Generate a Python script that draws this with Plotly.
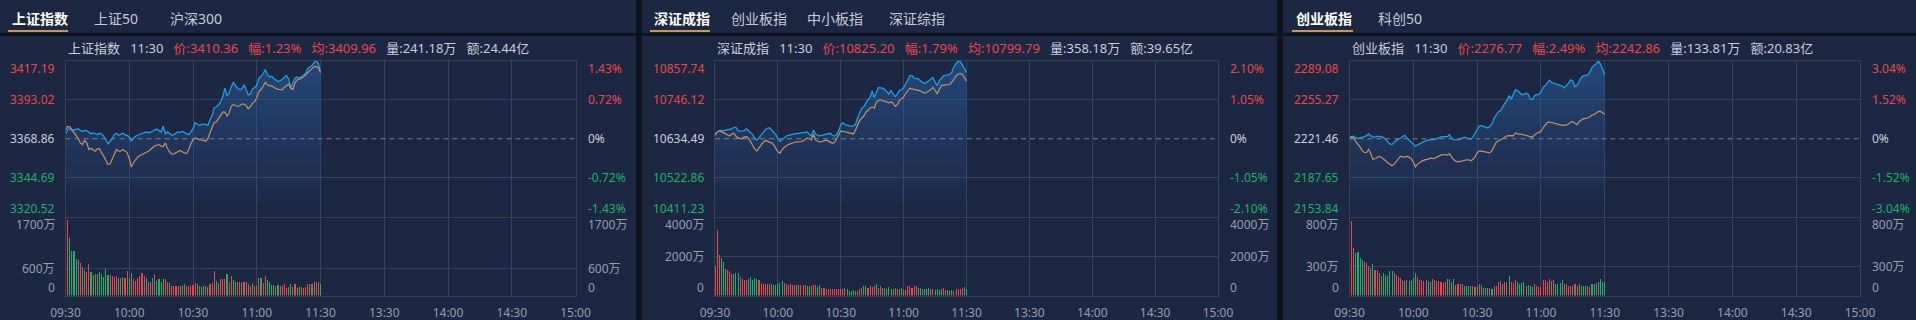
import plotly.graph_objects as go

# ---------------------------------------------------------------- data
minute_index = list(range(121))          # minutes after 09:30 (morning session)
time_tickvals = [0, 30, 60, 90, 120, 150, 180, 210, 240]
time_ticktext = ["09:30", "10:00", "10:30", "11:00", "11:30", "13:30", "14:00", "14:30", "15:00"]
last_time = "11:30"

# ---- 上证指数
sh_tabs = ["上证指数", "上证50", "沪深300"]
sh_name = "上证指数"
sh_prev_close = 3368.86
sh_price_ticks = [3417.19, 3393.02, 3368.86, 3344.69, 3320.52]
sh_pct_ticks = ["1.43%", "0.72%", "0%", "-0.72%", "-1.43%"]
sh_vol_ticks = [1700, 600, 0]
sh_vol_ticktext = ["1700万", "600万", "0"]
sh_vol_total = "241.18万"
sh_amount_total = "24.44亿"
sh_price = [3371.43, 3374.73, 3375.14, 3373.90, 3374.32, 3374.73, 3375.14, 3373.90, 3373.49, 3374.11,
            3373.90, 3373.08, 3371.84, 3372.46, 3372.05, 3371.43, 3372.26, 3371.84, 3370.40, 3368.13,
            3365.66, 3367.31, 3368.96, 3371.43, 3372.26, 3371.02, 3371.43, 3372.26, 3371.43, 3371.02,
            3370.19, 3367.31, 3369.37, 3370.40, 3371.02, 3371.84, 3372.26, 3372.46, 3373.08, 3372.46,
            3372.87, 3373.49, 3374.32, 3374.73, 3373.90, 3373.08, 3376.58, 3371.84, 3373.08, 3372.26,
            3371.02, 3371.43, 3372.26, 3373.08, 3372.67, 3373.49, 3372.67, 3371.84, 3371.43, 3373.08,
            3375.14, 3378.85, 3378.03, 3377.20, 3377.61, 3378.03, 3377.61, 3377.20, 3380.50, 3383.39,
            3388.33, 3388.75, 3389.98, 3391.63, 3394.93, 3400.29, 3395.75, 3397.20, 3401.11, 3404.00,
            3401.94, 3400.29, 3399.46, 3399.88, 3402.35, 3399.26, 3396.17, 3396.58, 3399.88, 3400.70,
            3401.94, 3406.47, 3408.12, 3409.36, 3411.83, 3408.95, 3407.30, 3407.71, 3406.47, 3405.24,
            3404.41, 3404.82, 3406.06, 3406.88, 3408.12, 3406.06, 3400.29, 3404.00, 3406.47, 3407.30,
            3406.47, 3407.30, 3408.12, 3409.36, 3412.66, 3413.48, 3414.30, 3416.37, 3417.19, 3415.54,
            3410.36]
sh_avg = [3374.52, 3376.38, 3376.38, 3374.73, 3373.08, 3370.81, 3368.96, 3366.28, 3365.25, 3367.72,
          3366.28, 3362.16, 3362.77, 3362.16, 3361.13, 3362.57, 3362.77, 3359.89, 3358.03, 3355.35,
          3352.88, 3353.29, 3355.97, 3359.06, 3362.16, 3361.13, 3361.13, 3362.16, 3361.33, 3360.30,
          3356.59, 3351.23, 3354.12, 3356.18, 3357.42, 3358.45, 3359.06, 3360.09, 3360.51, 3361.13,
          3362.16, 3363.60, 3364.42, 3364.84, 3365.25, 3364.22, 3364.01, 3366.28, 3362.77, 3360.71,
          3359.27, 3359.48, 3360.30, 3360.71, 3361.54, 3360.71, 3359.89, 3359.89, 3362.16, 3365.66,
          3368.34, 3369.37, 3368.75, 3368.34, 3368.13, 3367.72, 3367.31, 3368.96, 3373.08, 3375.97,
          3378.85, 3379.47, 3381.33, 3383.80, 3385.45, 3385.45, 3382.97, 3384.83, 3388.95, 3390.19,
          3389.57, 3388.95, 3389.57, 3390.39, 3390.39, 3389.57, 3387.51, 3388.75, 3391.01, 3391.84,
          3394.52, 3398.23, 3399.46, 3401.32, 3404.00, 3402.35, 3401.73, 3401.73, 3400.91, 3400.08,
          3399.46, 3399.46, 3399.26, 3400.91, 3402.14, 3402.76, 3400.29, 3399.46, 3403.59, 3405.44,
          3405.85, 3406.27, 3407.30, 3408.53, 3409.77, 3410.59, 3412.04, 3413.69, 3413.69, 3413.07,
          3409.96]
sh_volume = [600, 1663, 1265, 976, 976, 810, 781, 723, 636, 557,
             506, 701, 520, 448, 470, 470, 520, 470, 405, 571,
             455, 448, 434, 398, 419, 383, 376, 412, 376, 542,
             376, 484, 361, 325, 376, 419, 492, 434, 376, 304,
             304, 390, 470, 325, 361, 304, 361, 361, 304, 275,
             217, 217, 217, 217, 202, 231, 246, 202, 202, 202,
             231, 267, 246, 202, 181, 202, 202, 181, 260, 275,
             542, 325, 275, 361, 361, 361, 470, 304, 434, 347,
             289, 304, 304, 275, 289, 304, 246, 217, 275, 217,
             217, 376, 376, 275, 434, 347, 304, 231, 231, 217,
             231, 217, 217, 246, 159, 188, 246, 188, 246, 159,
             188, 188, 174, 188, 260, 246, 260, 289, 289, 304,
             246]
sh_updown = list("rrggggrrgr" "rrggrggggg" "grrrrgrgrr" "ggrrrrrrgr" "rgrggggrrg" "rrrrgrgrrr"
                 "rrgrggrgrr" "rgrrrrgrrg" "grrgrrgrrg" "rrgrrggggr" "grrrrggrrg" "grrrrgrgrr" "g")

# ---- 深证成指
sz_tabs = ["深证成指", "创业板指", "中小板指", "深证综指"]
sz_name = "深证成指"
sz_prev_close = 10634.49
sz_price_ticks = [10857.74, 10746.12, 10634.49, 10522.86, 10411.23]
sz_pct_ticks = ["2.10%", "1.05%", "0%", "-1.05%", "-2.10%"]
sz_vol_ticks = [4000, 2000, 0]
sz_vol_ticktext = ["4000万", "2000万", "0"]
sz_vol_total = "358.18万"
sz_amount_total = "39.65亿"
sz_price = [10643.53, 10653.05, 10656.86, 10658.76, 10657.81, 10658.76, 10659.71, 10661.62, 10662.57, 10667.33,
            10667.33, 10657.81, 10655.91, 10656.86, 10657.81, 10662.57, 10657.81, 10652.10, 10646.38, 10634.96,
            10631.15, 10636.86, 10644.48, 10654.00, 10660.67, 10664.47, 10666.38, 10659.71, 10654.00, 10646.38,
            10634.96, 10627.34, 10632.10, 10637.82, 10641.62, 10644.48, 10646.38, 10648.29, 10649.24, 10650.19,
            10650.19, 10651.15, 10653.05, 10654.00, 10654.00, 10648.29, 10641.62, 10659.71, 10648.29, 10644.48,
            10642.58, 10644.48, 10645.43, 10647.34, 10649.24, 10650.19, 10644.48, 10641.62, 10646.38, 10657.81,
            10674.95, 10680.66, 10674.95, 10673.04, 10672.09, 10670.19, 10671.14, 10674.95, 10693.99, 10711.12,
            10722.55, 10726.36, 10736.83, 10747.30, 10753.01, 10772.06, 10753.01, 10768.25, 10781.58, 10780.62,
            10779.67, 10775.86, 10768.25, 10762.53, 10773.96, 10762.53, 10755.87, 10762.53, 10773.96, 10774.91,
            10781.58, 10791.10, 10803.47, 10815.85, 10815.85, 10808.23, 10806.33, 10806.33, 10800.62, 10795.86,
            10793.00, 10796.81, 10800.62, 10806.33, 10810.14, 10796.81, 10787.29, 10800.62, 10808.23, 10814.90,
            10816.80, 10817.75, 10819.66, 10825.37, 10841.56, 10850.12, 10857.74, 10856.79, 10848.22, 10836.79,
            10825.20]
sz_avg = [10648.29, 10654.00, 10657.81, 10654.95, 10652.10, 10648.29, 10645.43, 10642.58, 10648.29, 10650.19,
          10641.62, 10636.86, 10634.96, 10634.96, 10639.72, 10640.67, 10635.91, 10624.49, 10614.97, 10604.49,
          10599.73, 10608.30, 10616.87, 10624.49, 10629.25, 10628.30, 10624.49, 10622.58, 10616.87, 10608.30,
          10596.88, 10593.07, 10603.54, 10609.25, 10614.02, 10617.82, 10619.73, 10622.58, 10624.49, 10625.44,
          10625.44, 10626.39, 10628.30, 10633.06, 10636.86, 10635.91, 10631.15, 10647.34, 10631.15, 10627.34,
          10625.44, 10626.39, 10627.34, 10630.20, 10628.30, 10625.44, 10621.63, 10623.54, 10634.01, 10644.48,
          10656.86, 10655.91, 10654.00, 10652.10, 10650.19, 10649.24, 10648.29, 10658.76, 10672.09, 10686.37,
          10693.99, 10699.70, 10710.17, 10716.84, 10722.55, 10725.41, 10722.55, 10739.69, 10744.45, 10746.35,
          10744.45, 10742.54, 10741.59, 10737.78, 10740.64, 10735.88, 10727.31, 10732.07, 10744.45, 10749.21,
          10753.97, 10764.44, 10773.01, 10779.67, 10777.77, 10776.82, 10775.86, 10773.96, 10772.06, 10768.25,
          10765.39, 10767.30, 10771.10, 10775.86, 10781.58, 10772.06, 10764.44, 10775.86, 10787.29, 10788.24,
          10789.19, 10788.24, 10790.14, 10796.81, 10807.28, 10814.90, 10819.66, 10821.56, 10819.66, 10809.19,
          10799.79]
sz_volume = [1517, 3379, 2069, 1931, 1724, 1345, 1293, 1241, 1103, 1121,
             1172, 1172, 948, 862, 776, 776, 862, 948, 776, 896,
             828, 810, 638, 603, 603, 586, 586, 586, 517, 552,
             586, 621, 759, 621, 586, 552, 586, 552, 517, 517,
             517, 517, 517, 517, 465, 483, 483, 517, 552, 414,
             517, 379, 379, 345, 345, 310, 310, 310, 310, 310,
             310, 345, 397, 345, 241, 241, 259, 241, 224, 310,
             379, 465, 465, 379, 465, 448, 483, 569, 397, 483,
             379, 397, 345, 431, 345, 345, 379, 310, 345, 379,
             259, 259, 465, 465, 379, 483, 465, 397, 397, 345,
             345, 345, 397, 310, 345, 293, 345, 293, 345, 397,
             259, 259, 241, 259, 241, 345, 345, 345, 379, 431,
             345]
sz_updown = list("rrrgggrrrg" "ggrrrrgggg" "grrrrrrgrg" "gggrrrrrrg" "rrrrggrrrg" "grrrrrrrrr"
                 "rrrgggggrr" "rggrrrrgrr" "grgggrgrrg" "grrrrrrggr" "gggrrggggr" "rgggrrrrrg" "g")

# ---- 创业板指
cy_tabs = ["创业板指", "科创50"]
cy_name = "创业板指"
cy_prev_close = 2221.46
cy_price_ticks = [2289.08, 2255.27, 2221.46, 2187.65, 2153.84]
cy_pct_ticks = ["3.04%", "1.52%", "0%", "-1.52%", "-3.04%"]
cy_vol_ticks = [800, 300, 0]
cy_vol_ticktext = ["800万", "300万", "0"]
cy_vol_total = "133.81万"
cy_amount_total = "20.83亿"
cy_price = [2220.74, 2223.05, 2223.91, 2221.89, 2221.89, 2222.18, 2222.76, 2223.33, 2224.20, 2225.64,
            2223.91, 2223.05, 2222.76, 2223.62, 2223.62, 2223.33, 2222.47, 2221.03, 2218.72, 2216.99,
            2216.41, 2218.43, 2219.87, 2221.32, 2221.89, 2223.33, 2224.49, 2222.18, 2220.16, 2218.72,
            2216.99, 2214.97, 2216.12, 2217.28, 2218.14, 2219.01, 2219.87, 2220.45, 2220.74, 2221.03,
            2220.74, 2221.60, 2222.47, 2223.05, 2223.33, 2223.05, 2223.33, 2225.06, 2221.60, 2220.74,
            2220.45, 2220.45, 2221.32, 2221.89, 2222.76, 2222.18, 2221.32, 2220.74, 2223.05, 2226.22,
            2230.25, 2232.56, 2232.85, 2231.99, 2231.41, 2230.83, 2232.27, 2234.29, 2239.19, 2242.37,
            2244.96, 2245.83, 2249.29, 2252.17, 2254.48, 2259.09, 2255.92, 2259.67, 2263.99, 2263.42,
            2261.40, 2259.67, 2259.96, 2261.11, 2260.24, 2255.92, 2255.63, 2258.80, 2259.96, 2259.96,
            2261.97, 2266.01, 2267.74, 2269.76, 2272.36, 2270.34, 2269.76, 2269.47, 2268.32, 2268.03,
            2267.16, 2265.72, 2267.45, 2269.76, 2272.64, 2271.78, 2266.88, 2267.74, 2271.20, 2274.95,
            2276.10, 2276.68, 2276.97, 2279.28, 2283.31, 2285.33, 2286.77, 2289.08, 2286.48, 2281.87,
            2276.77]
cy_avg = [2223.62, 2223.05, 2221.89, 2219.01, 2216.70, 2214.11, 2210.93, 2209.49, 2209.49, 2212.09,
          2208.34, 2203.44, 2204.01, 2204.88, 2206.32, 2205.17, 2204.01, 2202.28, 2200.55, 2198.82,
          2197.96, 2199.40, 2202.00, 2204.30, 2206.32, 2205.46, 2205.46, 2206.32, 2205.46, 2204.30,
          2201.13, 2197.09, 2199.40, 2200.84, 2202.00, 2202.86, 2203.15, 2203.73, 2204.59, 2204.59,
          2204.30, 2205.46, 2206.61, 2207.19, 2207.76, 2207.47, 2207.47, 2208.34, 2205.17, 2203.15,
          2202.00, 2201.42, 2201.71, 2202.28, 2202.57, 2203.15, 2203.15, 2202.28, 2203.44, 2205.46,
          2209.20, 2210.65, 2210.65, 2210.36, 2209.78, 2209.49, 2209.20, 2211.22, 2214.39, 2218.43,
          2219.59, 2220.45, 2221.89, 2222.76, 2223.91, 2224.20, 2224.20, 2223.91, 2226.51, 2225.64,
          2225.64, 2225.35, 2224.78, 2224.20, 2223.62, 2222.76, 2222.76, 2224.78, 2226.22, 2226.79,
          2227.95, 2230.83, 2233.14, 2235.73, 2236.02, 2235.45, 2235.16, 2234.87, 2234.29, 2233.71,
          2233.14, 2233.14, 2233.43, 2234.00, 2236.02, 2236.31, 2234.87, 2233.71, 2236.60, 2238.04,
          2238.91, 2239.19, 2239.48, 2240.64, 2242.08, 2242.65, 2243.81, 2245.25, 2245.25, 2244.10,
          2242.86]
cy_volume = [226, 768, 495, 438, 445, 384, 371, 344, 337, 303,
             286, 324, 263, 263, 229, 202, 229, 216, 202, 256,
             249, 236, 212, 192, 179, 162, 148, 162, 148, 165,
             179, 236, 189, 162, 158, 148, 158, 148, 142, 175,
             155, 152, 148, 135, 125, 135, 175, 175, 135, 172,
             108, 121, 121, 115, 94, 94, 101, 101, 101, 84,
             101, 115, 108, 74, 81, 74, 78, 67, 101, 101,
             135, 145, 118, 135, 135, 202, 135, 128, 162, 142,
             118, 125, 135, 101, 108, 101, 88, 115, 101, 88,
             84, 162, 162, 135, 169, 152, 158, 121, 121, 128,
             158, 118, 115, 94, 101, 98, 115, 101, 121, 101,
             101, 101, 94, 84, 118, 121, 128, 142, 172, 135,
             135]
cy_updown = list("grrggggrrr" "ggrrgrgggg" "grrrrrgrgg" "ggrrrrrggr" "rrrrrrgrgg" "rrrrgggrrg"
                 "rrgrggrgrr" "rrgrrgrrrg" "gggrgggrrr" "rrrrrgrggg" "grrrrgrgrg" "ggrrggrggg" "g")

# ---------------------------------------------------------------- style
W, H = 1916, 320
FONT = "Noto Sans, Noto Sans CJK SC, sans-serif"
BG = "#1c2741"
SEP = "#0e121c"
GRID = "#364260"
FRAME = "#3a4150"
RED = "#e8474c"
GREEN = "#1fb06a"
BLUE = "#1c9fe4"
TAN = "#c49261"
TXT = "#c9ced8"
AXT = "#979eab"
UNDER = "#c8955a"


def fx(px):
    return px / W


def fy(py):
    return 1 - py / H


PRICE_TOP, PRICE_BOT, VOL_TOP, VOL_BOT = 61, 216.5, 218, 295.5

panels = [
    dict(tabs=sh_tabs, tab_x=[10, 92, 168], under=(8, 68), bg=(0, 636), plot=(65.5, 575.5),
         name=sh_name, prev=sh_prev_close, pticks=sh_price_ticks, pct=sh_pct_ticks,
         vticks=sh_vol_ticks, vtext=sh_vol_ticktext, vtot=sh_vol_total, amt=sh_amount_total,
         price=sh_price, avg=sh_avg, vol=sh_volume, ud=sh_updown),
    dict(tabs=sz_tabs, tab_x=[652, 729, 805, 887], under=(650, 710), bg=(642, 1277), plot=(715, 1218),
         name=sz_name, prev=sz_prev_close, pticks=sz_price_ticks, pct=sz_pct_ticks,
         vticks=sz_vol_ticks, vtext=sz_vol_ticktext, vtot=sz_vol_total, amt=sz_amount_total,
         price=sz_price, avg=sz_avg, vol=sz_volume, ud=sz_updown),
    dict(tabs=cy_tabs, tab_x=[1294, 1376], under=(1292, 1353), bg=(1283, 1916), plot=(1349.5, 1860),
         name=cy_name, prev=cy_prev_close, pticks=cy_price_ticks, pct=cy_pct_ticks,
         vticks=cy_vol_ticks, vtext=cy_vol_ticktext, vtot=cy_vol_total, amt=cy_amount_total,
         price=cy_price, avg=cy_avg, vol=cy_volume, ud=cy_updown),
]

fig = go.Figure()
layout = dict(width=W, height=H, margin=dict(l=0, r=0, t=0, b=0, pad=0), autosize=False,
              paper_bgcolor=SEP, plot_bgcolor="rgba(0,0,0,0)", showlegend=False,
              font=dict(family=FONT, size=12, color=TXT), hovermode=False)
shapes, annotations = [], []


def names(n):
    return ("x" if n == 1 else f"x{n}"), ("y" if n == 1 else f"y{n}")


for i, p in enumerate(panels):
    pn, vn = 2 * i + 1, 2 * i + 2
    px_, py_ = names(pn)
    vx_, vy_ = names(vn)
    x0, x1 = p["plot"]
    ymax, ymin = p["pticks"][0], p["pticks"][-1]
    vmax = p["vticks"][0]

    # panel backgrounds
    shapes.append(dict(type="rect", xref="paper", yref="paper", layer="below", line_width=0,
                       x0=fx(p["bg"][0]), x1=fx(p["bg"][1]), y0=fy(33), y1=1, fillcolor=BG))
    shapes.append(dict(type="rect", xref="paper", yref="paper", layer="below", line_width=0,
                       x0=fx(p["bg"][0]), x1=fx(p["bg"][1]), y0=0, y1=fy(36), fillcolor=BG))
    # active tab underline
    shapes.append(dict(type="rect", xref="paper", yref="paper", line_width=0, fillcolor=UNDER,
                       x0=fx(p["under"][0]), x1=fx(p["under"][1]), y0=fy(32), y1=fy(30)))
    # tabs
    for k, (t, tx) in enumerate(zip(p["tabs"], p["tab_x"])):
        annotations.append(dict(xref="paper", yref="paper", x=fx(tx), y=fy(18), xanchor="left",
                                yanchor="middle", showarrow=False,
                                text=f"<b>{t}</b>" if k == 0 else t,
                                font=dict(size=14, color="#ffffff" if k == 0 else "#c6cbd4")))
    # info line
    last = p["price"][-1]
    chg = (last - p["prev"]) / p["prev"] * 100
    sp = "\u00a0\u00a0\u00a0"
    info = (f"{p['name']}{sp}{last_time}{sp}<span style='color:{RED}'>价:{last:.2f}{sp}幅:{chg:.2f}%{sp}"
            f"均:{p['avg'][-1]:.2f}</span>{sp}量:{p['vtot']}{sp}额:{p['amt']}")
    annotations.append(dict(xref="paper", yref="paper", x=fx(x0), y=fy(47.5), xanchor="left",
                            yanchor="middle", showarrow=False, text=info,
                            font=dict(size=13, color=TXT)))

    # traces
    fig.add_trace(go.Scatter(x=minute_index, y=p["price"], mode="lines", xaxis=px_, yaxis=py_,
                             line=dict(color=BLUE, width=1.3), fill="tozeroy",
                             fillgradient=dict(type="vertical", start=ymin, stop=ymax,
                                               colorscale=[[0, "rgba(40,90,160,0.02)"],
                                                           [1, "rgba(45,105,180,0.50)"]])))
    fig.add_trace(go.Scatter(x=minute_index, y=p["avg"], mode="lines", xaxis=px_, yaxis=py_,
                             line=dict(color=TAN, width=1.2)))
    fig.add_trace(go.Bar(x=minute_index, y=p["vol"], xaxis=vx_, yaxis=vy_, width=0.5,
                         marker=dict(color=[RED if d == "r" else GREEN for d in p["ud"]], line_width=0)))

    common_x = dict(domain=[fx(x0), fx(x1)], range=[0, 240], tickvals=time_tickvals,
                    showgrid=True, gridcolor=GRID, gridwidth=1, zeroline=False,
                    showline=True, linecolor=FRAME, linewidth=1, mirror=True, ticks="",
                    fixedrange=True, automargin=False)
    layout["xaxis" if pn == 1 else f"xaxis{pn}"] = dict(common_x, anchor=py_, showticklabels=False)
    layout[f"xaxis{vn}"] = dict(common_x, anchor=vy_, showticklabels=True, ticktext=time_ticktext,
                                tickfont=dict(size=12, color=AXT), ticklabelstandoff=6)
    layout["yaxis" if pn == 1 else f"yaxis{pn}"] = dict(
        domain=[fy(PRICE_BOT), fy(PRICE_TOP)], range=[ymin, ymax], anchor=px_,
        tickvals=[p["pticks"][1], p["pticks"][3]], showticklabels=False, showgrid=True,
        gridcolor=GRID, zeroline=False, showline=True, linecolor=FRAME, mirror=True, ticks="",
        automargin=False)
    layout[f"yaxis{vn}"] = dict(
        domain=[fy(VOL_BOT), fy(VOL_TOP)], range=[0, vmax], anchor=vx_,
        tickvals=[p["vticks"][1]], showticklabels=False, showgrid=True,
        gridcolor=GRID, zeroline=False, showline=True, linecolor=FRAME, mirror=True, ticks="",
        automargin=False)

    # dashed previous-close line
    shapes.append(dict(type="line", xref=f"{px_} domain", x0=0, x1=1, yref=py_, y0=p["prev"], y1=p["prev"],
                       line=dict(color="#7b8089", width=1, dash="5px,4px")))

    # price / percent labels
    pcols = [RED, RED, TXT, GREEN, GREEN]
    shifts = [-7, 0, 0, 0, 8]
    for v, pc, col, sh in zip(p["pticks"], p["pct"], pcols, shifts):
        annotations.append(dict(xref=f"{px_} domain", x=0, xanchor="right", xshift=-9,
                                yref=py_, y=v, yanchor="middle", yshift=sh, showarrow=False,
                                text=f"{v:.2f}", font=dict(size=12, color=col)))
        annotations.append(dict(xref=f"{px_} domain", x=1, xanchor="left", xshift=10,
                                yref=py_, y=v, yanchor="middle", yshift=sh, showarrow=False,
                                text=pc, font=dict(size=12, color=col)))
    # volume labels
    vshifts = [-6, 0, 8]
    for v, vt, sh in zip(p["vticks"], p["vtext"], vshifts):
        for side in (0, 1):
            annotations.append(dict(xref=f"{vx_} domain", x=side, xanchor="right" if side == 0 else "left",
                                    xshift=-9 if side == 0 else 10, yref=vy_, y=v, yanchor="middle",
                                    yshift=sh, showarrow=False, text=vt,
                                    font=dict(size=12, color=AXT)))

layout["shapes"] = shapes
layout["annotations"] = annotations
layout["bargap"] = 0
fig.update_layout(**layout)
fig.write_html("out.html", config={"displayModeBar": False, "staticPlot": True, "responsive": False},
               default_width="1916px", default_height="320px",
               post_script="document.body.style.margin='0';document.body.style.padding='0';"
                           "document.documentElement.style.overflow='hidden';")
